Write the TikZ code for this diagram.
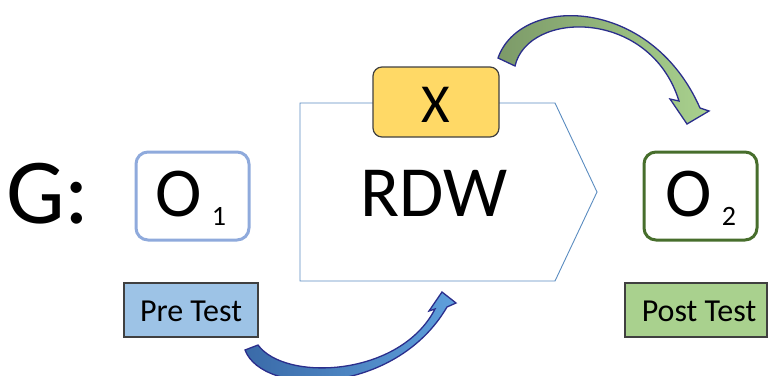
\documentclass[tikz,border=0pt]{standalone}
\usepackage{fontspec}
\setmainfont{Carlito}
\usetikzlibrary{shapes.geometric}

\definecolor{obsblue}{HTML}{8FAADC}
\definecolor{obsgreen}{HTML}{476E2C}
\definecolor{preblue}{HTML}{9DC3E6}
\definecolor{postgreen}{HTML}{A9D18E}
\definecolor{treatyellow}{HTML}{FFD966}
\definecolor{edgegray}{HTML}{404040}
\definecolor{chevron}{HTML}{5A8CC0}
\definecolor{navyline}{HTML}{2B2E8C}
\definecolor{bluedark}{HTML}{3A6AA8}
\definecolor{bluelight}{HTML}{5FA0DC}
\definecolor{greendark}{HTML}{7C9A68}
\definecolor{greenlight}{HTML}{A9D18E}

\newcommand{\fs}[1]{\fontsize{#1}{#1}\selectfont}

\tikzset{
  obsbox/.style={draw, rounded corners=12pt, line width=3pt, fill=white},
  testbox/.style={draw=edgegray, line width=1.2pt},
  bigtxt/.style={inner sep=0pt, anchor=base},
  curvearrow/.style={draw=navyline, line width=1.3pt, line join=miter}
}

\begin{document}
\begin{tikzpicture}[x=1pt,y=-1pt]
  \useasboundingbox (0,0) rectangle (768,375);

  % group label
  \node[bigtxt, anchor=base west] (g) at (6,223) {\fs{93}G:};

  % pre-test observation
  \draw[obsbox, draw=obsblue] (136,152) rectangle (249,240);
  \node[bigtxt] (o1) at (179,216) {\fs{70}O};
  \node[bigtxt] (s1) at (219,225) {\fs{28}1};

  % treatment chevron
  \draw[chevron, line width=0.9pt] (300,103) -- (555,103) -- (597,192) -- (555,281) -- (300,281) -- cycle;
  \node[bigtxt] (rdw) at (434,216) {\fs{72}RDW};

  % treatment box
  \draw[draw=edgegray, fill=treatyellow, line width=1.2pt, rounded corners=9pt] (373,67) rectangle (499,137);
  \node[bigtxt] (x) at (436,122) {\fs{55}X};

  % post-test observation
  \draw[obsbox, draw=obsgreen] (644,152) rectangle (757,240);
  \node[bigtxt] (o2) at (689,216) {\fs{70}O};
  \node[bigtxt] (s2) at (729,225) {\fs{28}2};

  % test labels
  \draw[testbox, fill=preblue] (124,283) rectangle (258,337);
  \node[bigtxt] (pre) at (191,321) {\fs{32}Pre Test};
  \draw[testbox, fill=postgreen] (625,283) rectangle (767,337);
  \node[bigtxt] (post) at (699,321) {\fs{32}Post Test};

  % curved arrow from pre-test up to the treatment
  \draw[curvearrow, left color=bluedark, right color=bluelight]
    (245,350) .. controls (263,397) and (395,396) .. (447,307)
    -- (456,303) -- (442,292) -- (429,311) -- (435,309)
    .. controls (400,377) and (285,382) .. (258,345) -- cycle;

  % curved arrow from the treatment over to the post-test
  \draw[curvearrow, left color=greendark, right color=greenlight]
    (498,58) .. controls (520,-5) and (650,-5) .. (700,108)
    -- (709,111) -- (687,124) -- (670,99) -- (679,101)
    .. controls (650,8) and (528,10) .. (515,66) -- cycle;
\end{tikzpicture}
\end{document}
